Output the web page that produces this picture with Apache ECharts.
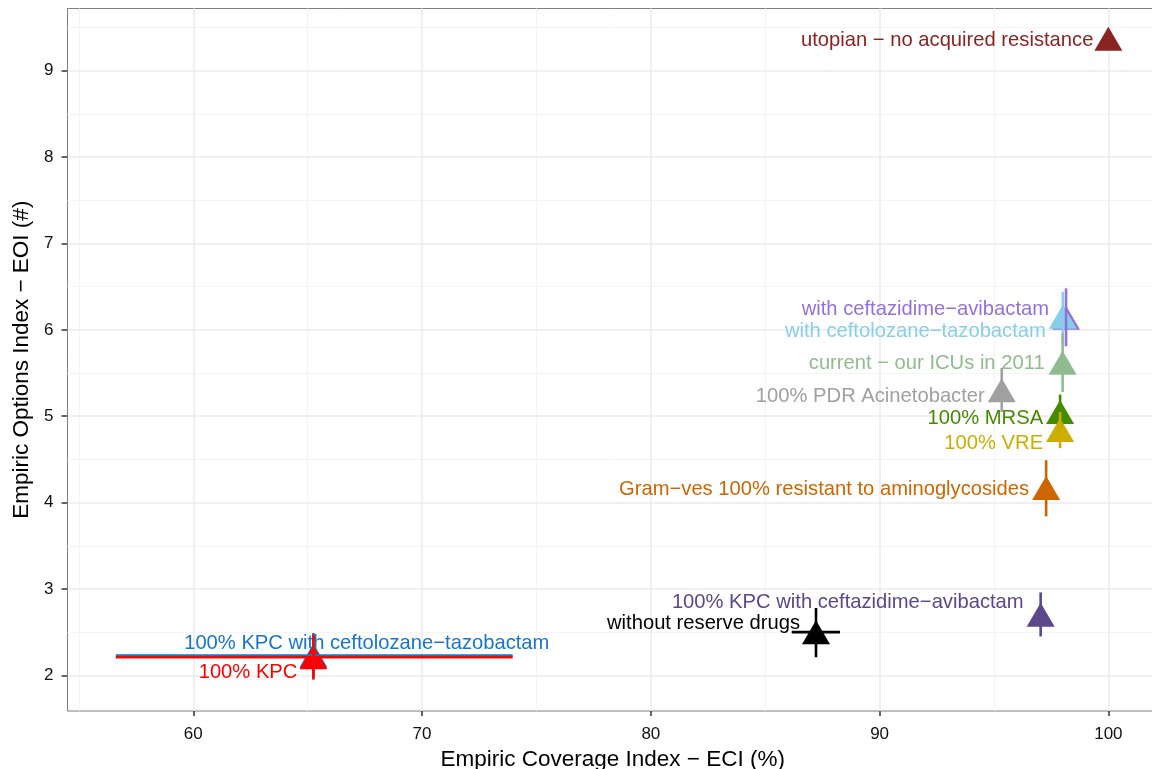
<!DOCTYPE html>
<html><head><meta charset="utf-8">
<script src="https://cdn.jsdelivr.net/npm/echarts@6/dist/echarts.min.js"></script>
<style>html,body{margin:0;padding:0;background:#fff}#c{width:1152px;height:769px}</style>
</head><body><div id="c"></div>
<script>
// ---- data ----
const scenarios = [
  'utopian \u2212 no acquired resistance',
  'with ceftazidime\u2212avibactam',
  'with ceftolozane\u2212tazobactam',
  'current \u2212 our ICUs in 2011',
  '100% PDR Acinetobacter',
  '100% MRSA',
  '100% VRE',
  'Gram\u2212ves 100% resistant to aminoglycosides',
  '100% KPC with ceftazidime\u2212avibactam',
  'without reserve drugs',
  '100% KPC with ceftolozane\u2212tazobactam',
  '100% KPC'
];
const eci     = [100,   98.15, 98.01, 98.0, 95.34, 97.89, 97.89, 97.28, 97.04, 87.22, 65.25, 65.25];
const eoi     = [9.37,  6.14,  6.15,  5.62, 5.30,  5.05,  4.84,  4.17,  2.70,  2.50,  2.23,  2.21];
const eoiLow  = [null,  5.81,  5.86,  5.28, 5.05,  4.85,  4.63,  3.84,  2.45,  2.21,  1.97,  1.95];
const eoiHigh = [null,  6.48,  6.44,  5.96, 5.56,  5.25,  5.05,  4.49,  2.96,  2.78,  2.49,  2.47];
const eciLow  = [null,  null,  null,  null, null,  null,  null,  null,  null,  86.16, 56.61, 56.61];
const eciHigh = [null,  null,  null,  null, null,  null,  null,  null,  null,  88.27, 73.96, 73.96];
const xTicks = [60, 70, 80, 90, 100];
const xMinor = [55, 65, 75, 85, 95];
const yTicks = [2, 3, 4, 5, 6, 7, 8, 9];
const yMinor = [2.5, 3.5, 4.5, 5.5, 6.5, 7.5, 8.5, 9.5];

// ---- styles ----
const colors = ['#8B2323', '#9370DB', '#87CEEB', '#8FBC8F', '#A0A0A0', '#458B00', '#CDAD00',
                '#CD6600', '#5D478B', '#000000', '#1874CD', '#FF0000'];
const labelOffsets = [[2, 2], [0, -8.5], [0, 15], [-1, 0.5], [0, 6], [0, 7], [0, 13],
                      [0, 2], [0, -12], [1, -8.5], [253, -12], [1, 15.5]];
const FONT = "'Liberation Sans', Arial, Helvetica, sans-serif";

const chart = echarts.init(document.getElementById('c'), null, {renderer: 'canvas'});

const gridLines = []
  .concat(xMinor.map(v => ({xAxis: v, lineStyle: {color: '#F4F4F4', width: 1, type: 'solid'}})))
  .concat(yMinor.map(v => ({yAxis: v, lineStyle: {color: '#F4F4F4', width: 1, type: 'solid'}})))
  .concat(xTicks.map(v => ({xAxis: v, lineStyle: {color: '#EBEBEB', width: 1.5, type: 'solid'}})))
  .concat(yTicks.map(v => ({yAxis: v, lineStyle: {color: '#EBEBEB', width: 1.5, type: 'solid'}})));

const pointData = eci.map((x, i) => ({
  value: [x, eoi[i]],
  itemStyle: {color: colors[i], opacity: 1},
  label: {
    show: true,
    formatter: scenarios[i],
    position: 'left',
    distance: 3,
    offset: labelOffsets[i],
    color: colors[i],
    fontSize: 20.2,
    fontFamily: FONT
  }
}));

const option = {
  animation: false,
  backgroundColor: '#ffffff',
  grid: {
    left: 67.5, right: -6, top: 8.5, bottom: 58,
    outerBoundsMode: 'none', containLabel: false,
    show: true, borderColor: '#7F7F7F', borderWidth: 1, backgroundColor: 'transparent'
  },
  xAxis: {
    type: 'value', min: 54.5, max: 102.17,
    name: 'Empiric Coverage Index \u2212 ECI (%)',
    nameLocation: 'middle', nameGap: 34,
    nameTextStyle: {fontSize: 22.5, color: '#000', fontFamily: FONT},
    axisLine: {show: false},
    splitLine: {show: false},
    axisTick: {show: true, length: 5, customValues: xTicks, lineStyle: {color: '#333', width: 1.5}},
    axisLabel: {customValues: xTicks, margin: 15, fontSize: 17, color: '#111', fontFamily: FONT}
  },
  yAxis: {
    type: 'value', min: 1.587, max: 9.72,
    name: 'Empiric Options Index \u2212 EOI (#)',
    nameLocation: 'middle', nameGap: 32,
    nameTextStyle: {fontSize: 22.5, color: '#000', fontFamily: FONT},
    axisLine: {show: false},
    splitLine: {show: false},
    axisTick: {show: true, length: 6, customValues: yTicks, lineStyle: {color: '#333', width: 1.5}},
    axisLabel: {customValues: yTicks, margin: 14, fontSize: 17, color: '#111', fontFamily: FONT}
  },
  series: [
    {
      type: 'line', data: [], z: 0, silent: true,
      markLine: {z: 0, silent: true, symbol: ['none', 'none'], label: {show: false}, animation: false, data: gridLines}
    },
    {
      type: 'scatter', z: 2, symbol: 'triangle', symbolSize: [28, 24],
      data: pointData
    },
    {
      type: 'custom', z: 3, silent: true,
      data: eci.map((x, i) => [x, eoi[i]]),
      encode: {x: 0, y: 1},
      renderItem: function (params, api) {
        const i = params.dataIndex;
        const children = [];
        const st = {stroke: colors[i], lineWidth: 2.6};
        if (eoiLow[i] != null) {
          const a = api.coord([eci[i], eoiLow[i]]);
          const b = api.coord([eci[i], eoiHigh[i]]);
          children.push({type: 'line', shape: {x1: a[0], y1: a[1], x2: b[0], y2: b[1]}, style: st});
        }
        if (eciLow[i] != null) {
          const a = api.coord([eciLow[i], eoi[i]]);
          const b = api.coord([eciHigh[i], eoi[i]]);
          children.push({type: 'line', shape: {x1: a[0], y1: a[1], x2: b[0], y2: b[1]}, style: st});
        }
        return {type: 'group', children: children};
      }
    }
  ]
};
chart.setOption(option);
</script>
</body></html>
